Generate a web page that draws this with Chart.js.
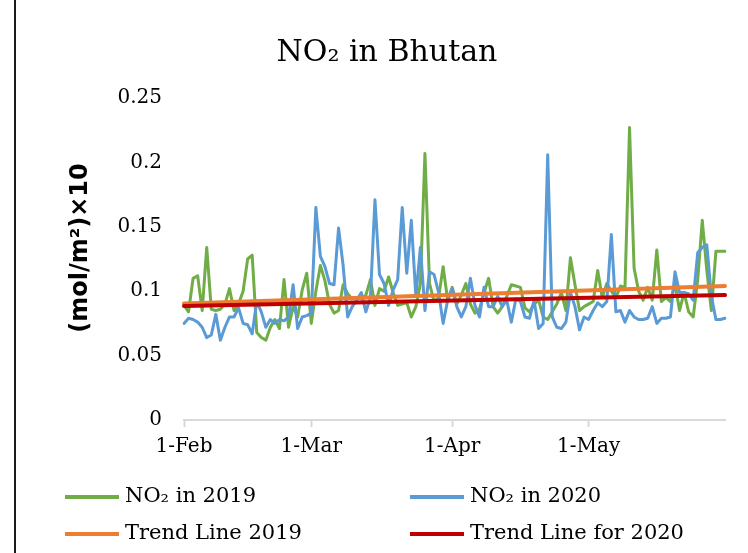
<!DOCTYPE html>
<html>
<head>
<meta charset="utf-8">
<script src="https://cdn.jsdelivr.net/npm/chart.js@4/dist/chart.umd.min.js"></script>
<style>
  html, body { margin: 0; padding: 0; background: #ffffff; }
  #wrap { width: 748px; height: 553px; position: relative; }
</style>
</head>
<body>
<div id="wrap"><canvas id="c" width="748" height="553"></canvas></div>
<script>
// ---- Data ----
const months = ['Feb', 'Mar', 'Apr', 'May'];
const monthDays = [28, 31, 30, 31];
const categories = [];
months.forEach((m, k) => { for (let d = 1; d <= monthDays[k]; d++) categories.push(d + '-' + m); });

const no2_2019 = [
  0.089, 0.084, 0.110, 0.112, 0.085, 0.134, 0.086, 0.085, 0.086, 0.090,
  0.102, 0.085, 0.090, 0.100, 0.125, 0.128, 0.068, 0.064, 0.062, 0.072,
  0.078, 0.071, 0.109, 0.072, 0.088, 0.080, 0.101, 0.114, 0.075, 0.100,
  0.120, 0.108, 0.090, 0.083, 0.085, 0.105, 0.098, 0.094, 0.095, 0.094,
  0.097, 0.109, 0.089, 0.102, 0.100, 0.111, 0.099, 0.089, 0.090, 0.091,
  0.080, 0.088, 0.106, 0.207, 0.106, 0.092, 0.095, 0.119, 0.093, 0.103,
  0.090, 0.097, 0.106, 0.090, 0.083, 0.086, 0.099, 0.110, 0.088, 0.083,
  0.088, 0.096, 0.105, 0.104, 0.103, 0.087, 0.084, 0.090, 0.093, 0.080,
  0.078, 0.084, 0.090, 0.099, 0.085, 0.126, 0.105, 0.085, 0.088, 0.090,
  0.092, 0.116, 0.095, 0.106, 0.100, 0.095, 0.104, 0.103, 0.227, 0.118,
  0.100, 0.093, 0.103, 0.093, 0.132, 0.092, 0.095, 0.092, 0.106, 0.085,
  0.099, 0.084, 0.080, 0.109, 0.155, 0.116, 0.085, 0.131, 0.131, 0.131
];
const no2_2020 = [
  0.075, 0.079, 0.078, 0.076, 0.072, 0.064, 0.066, 0.082, 0.062, 0.072,
  0.080, 0.080, 0.087, 0.075, 0.074, 0.067, 0.092, 0.084, 0.072, 0.078,
  0.075, 0.078, 0.077, 0.080, 0.105, 0.071, 0.080, 0.081, 0.083, 0.165,
  0.127, 0.119, 0.106, 0.105, 0.149, 0.120, 0.080, 0.088, 0.093, 0.099,
  0.084, 0.095, 0.171, 0.113, 0.106, 0.089, 0.101, 0.109, 0.165, 0.114,
  0.155, 0.096, 0.134, 0.085, 0.115, 0.113, 0.099, 0.075, 0.093, 0.102,
  0.088, 0.080, 0.088, 0.110, 0.089, 0.080, 0.103, 0.088, 0.088, 0.096,
  0.088, 0.093, 0.076, 0.094, 0.092, 0.080, 0.079, 0.093, 0.071, 0.075,
  0.206, 0.080, 0.072, 0.071, 0.076, 0.099, 0.088, 0.070, 0.080, 0.078,
  0.085, 0.091, 0.088, 0.092, 0.144, 0.084, 0.085, 0.076, 0.085, 0.080,
  0.078, 0.078, 0.079, 0.088, 0.075, 0.079, 0.079, 0.080, 0.115, 0.099,
  0.099, 0.098, 0.093, 0.130, 0.134, 0.136, 0.096, 0.078, 0.078, 0.079
];
// Trend lines: start and end values (straight lines between them)
const trend2019Ends = [0.0905, 0.1040];
const trend2020Ends = [0.0885, 0.0970];
const yTickValues = [0, 0.05, 0.1, 0.15, 0.2, 0.25];

const seriesLabels = ['NO\u2082 in 2019', 'NO\u2082 in 2020', 'Trend Line 2019', 'Trend Line for 2020'];
const chartTitle = 'NO\u2082 in Bhutan';
const yTitle = '(mol/m\u00B2)\u00D710';

function endsSeries(ends) {
  const arr = categories.map(() => null);
  arr[0] = ends[0];
  arr[arr.length - 1] = ends[1];
  return arr;
}

const extras = {
  id: 'extras',
  afterDraw(chart) {
    const ctx = chart.ctx;
    ctx.save();
    // left frame line
    ctx.strokeStyle = '#1a1a1a';
    ctx.lineWidth = 2;
    ctx.beginPath(); ctx.moveTo(15, 0); ctx.lineTo(15, 553); ctx.stroke();
    // y axis title
    ctx.save();
    ctx.translate(81, 248);
    ctx.rotate(-Math.PI / 2);
    ctx.font = 'bold 24px "DejaVu Sans"';
    ctx.fillStyle = '#000';
    ctx.textAlign = 'center';
    ctx.textBaseline = 'middle';
    ctx.fillText(yTitle, 0, 0);
    ctx.restore();
    // legend
    const cols = [65, 410], rows = [497, 534];
    chart.data.datasets.forEach((ds, i) => {
      const x = cols[i % 2], y = rows[Math.floor(i / 2)];
      ctx.strokeStyle = ds.borderColor;
      ctx.lineWidth = 4;
      ctx.lineCap = 'butt';
      ctx.beginPath(); ctx.moveTo(x, y); ctx.lineTo(x + 54, y); ctx.stroke();
      ctx.fillStyle = '#000';
      ctx.font = '21px "DejaVu Serif"';
      ctx.textAlign = 'left';
      ctx.textBaseline = 'middle';
      ctx.fillText(ds.label, x + 60, y);
    });
    ctx.restore();
  }
};

new Chart(document.getElementById('c'), {
  type: 'line',
  data: {
    labels: categories,
    datasets: [
      { label: seriesLabels[0], data: no2_2019, borderColor: '#70AD47', borderWidth: 3, order: 4 },
      { label: seriesLabels[1], data: no2_2020, borderColor: '#5B9BD5', borderWidth: 3, order: 3 },
      { label: seriesLabels[2], data: endsSeries(trend2019Ends), borderColor: '#ED7D31', borderWidth: 4, order: 2, spanGaps: true },
      { label: seriesLabels[3], data: endsSeries(trend2020Ends), borderColor: '#C00000', borderWidth: 4, order: 1, spanGaps: true }
    ]
  },
  options: {
    responsive: false,
    animation: false,
    events: [],
    elements: {
      point: { radius: 0 },
      line: { tension: 0, fill: false, borderJoinStyle: 'round', borderCapStyle: 'round' }
    },
    layout: { padding: { left: 49, right: 23, top: 0, bottom: 83 } },
    plugins: {
      legend: { display: false },
      tooltip: { enabled: false },
      title: {
        display: true,
        text: chartTitle,
        color: '#000',
        font: { family: '"DejaVu Serif"', size: 30, weight: 'normal' },
        padding: { top: 35, bottom: 27 }
      }
    },
    scales: {
      x: {
        type: 'category',
        offset: false,
        afterFit(scale) { scale.height = 50; },
        border: { display: true, color: '#d9d9d9', width: 2 },
        grid: {
          display: true,
          drawOnChartArea: false,
          drawTicks: true,
          tickLength: 7,
          tickWidth: 2,
          tickColor: (ctx) => (categories[ctx.index] && categories[ctx.index].split('-')[0] === '1') ? '#d9d9d9' : 'rgba(0,0,0,0)'
        },
        ticks: {
          autoSkip: false,
          maxRotation: 0,
          minRotation: 0,
          padding: 8,
          color: '#000',
          font: { family: '"DejaVu Serif"', size: 20 },
          callback(value, index) {
            const lbl = categories[index];
            return lbl.split('-')[0] === '1' ? lbl : '';
          }
        }
      },
      y: {
        min: 0,
        max: 0.25,
        afterFit(scale) { scale.width = 135; },
        afterBuildTicks(scale) { scale.ticks = yTickValues.map(v => ({ value: v })); },
        border: { display: false },
        grid: { display: false, drawTicks: false },
        ticks: {
          padding: 22,
          color: '#000',
          font: { family: '"DejaVu Serif"', size: 20 },
          callback: (v) => String(+Number(v).toFixed(2))
        }
      }
    }
  },
  plugins: [extras]
});
</script>
</body>
</html>
